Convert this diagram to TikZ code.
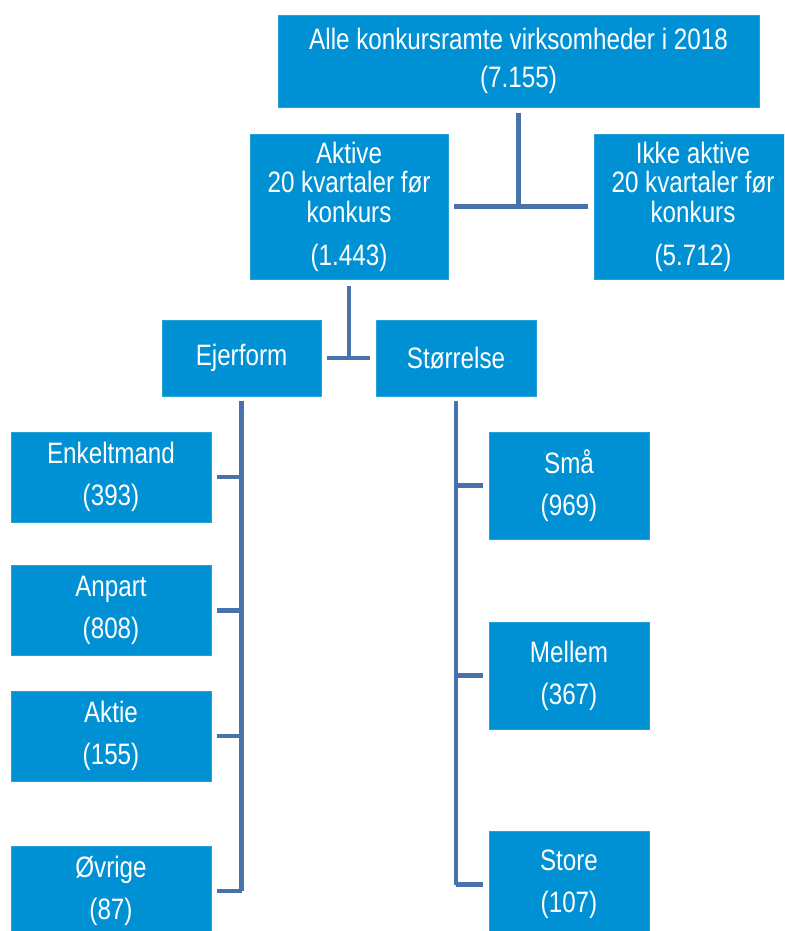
\documentclass[tikz,border=0pt]{standalone}
\usepackage{fontspec}
\setmainfont{Liberation Sans}[FakeStretch=0.82]
\usepackage{tikz}
\usetikzlibrary{positioning, calc}

\definecolor{boxblue}{RGB}{0,145,212}
\definecolor{lineblue}{RGB}{72,115,170}

\begin{document}
\begin{tikzpicture}[
			x=0.025cm, y=-0.025cm,
			block/.style={fill=boxblue, draw=boxblue!85!white, line width=0.6pt, text=white, align=center, inner sep=0pt,
				font=\fontsize{21}{21}\selectfont},
			conn/.style={draw=lineblue, line width=3pt},
			gap/.style={shorten <=4.2pt, shorten >=4.2pt}
			]
			\useasboundingbox (0,0) rectangle (784,931);
			\clip (0,0) rectangle (784,931);
			
			% --- Øverste niveau ---
			\node[block, minimum width=481*0.025cm, minimum height=92*0.025cm] (alle) at (518.5,61)
				{Alle konkursramte virksomheder i 2018\\[6.5pt](7.155)};
			\node[block, minimum width=198*0.025cm, minimum height=145*0.025cm] (aktive) at (349,206.5)
				{Aktive\\20 kvartaler før\\konkurs\\[9.5pt](1.443)};
			\node[block, minimum width=198*0.025cm, minimum height=145*0.025cm] (ikkeaktive) at (693,206.5)
				{Ikke aktive\\20 kvartaler før\\konkurs\\[9.5pt](5.712)};
			
			% --- Opdeling af de aktive ---
			\node[block, minimum width=159*0.025cm, minimum height=76*0.025cm] (ejerform) at (241.5,358) {Ejerform};
			\node[block, minimum width=160*0.025cm, minimum height=76*0.025cm] (stoerrelse) at (456,358) {Størrelse};
			
			% --- Ejerform ---
			\node[block, minimum width=200*0.025cm, minimum height=90*0.025cm] (enkelt) at (111,477) {Enkeltmand\\[9pt](393)};
			\node[block, minimum width=200*0.025cm, minimum height=90*0.025cm] (anpart) at (111,610.5) {Anpart\\[9pt](808)};
			\node[block, minimum width=200*0.025cm, minimum height=90*0.025cm] (aktie) at (111,736) {Aktie\\[9pt](155)};
			\node[block, minimum width=200*0.025cm, minimum height=90*0.025cm] (oevrige) at (111,891) {Øvrige\\[9pt](87)};
			
			% --- Størrelse ---
			\node[block, minimum width=160*0.025cm, minimum height=107*0.025cm] (smaa) at (569,485.5) {Små\\[9pt](969)};
			\node[block, minimum width=160*0.025cm, minimum height=107*0.025cm] (mellem) at (569,675.5) {Mellem\\[9pt](367)};
			\node[block, minimum width=160*0.025cm, minimum height=107*0.025cm] (store) at (569,884.5) {Store\\[9pt](107)};
			
			% --- Forbindelser ---
			\draw[conn, shorten <=4.2pt] (alle.south) -- (alle.south |- aktive.east);
			\draw[conn, gap] (aktive.east) -- (ikkeaktive.west);
			\draw[conn, shorten <=4.8pt] (aktive.south) -- (aktive.south |- ejerform.east);
			\draw[conn, gap] (ejerform.east) -- (stoerrelse.west);
			
			\draw[conn, shorten <=3.5pt] (ejerform.south) -- (ejerform.south |- oevrige.east);
			\foreach \n in {enkelt, anpart, aktie, oevrige}
				\draw[conn, shorten <=4.2pt] (\n.east) -- (\n.east -| ejerform.south);
			
			\draw[conn, shorten <=3.5pt] (stoerrelse.south) -- (stoerrelse.south |- store.west);
			\foreach \n in {smaa, mellem, store}
				\draw[conn, shorten <=4.2pt] (\n.west) -- (\n.west -| stoerrelse.south);
			
		\end{tikzpicture}
\end{document}
